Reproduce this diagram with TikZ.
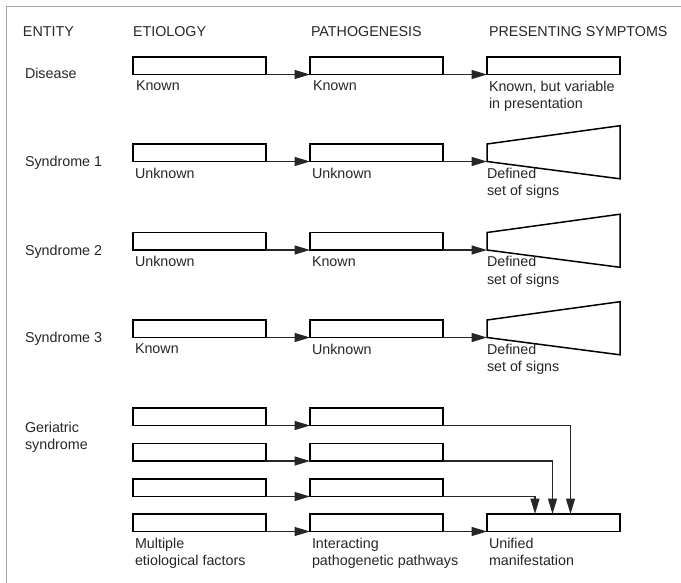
\documentclass[tikz,border=0pt]{standalone}
\usepackage{fontspec}
\setmainfont{Liberation Sans}
\usetikzlibrary{arrows.meta}
\tikzset{
  box/.style={draw=black, line width=1.5pt, minimum width=133pt, minimum height=17.5pt, inner sep=0pt, outer sep=0pt, anchor=north west},
  txt/.style={inner sep=0pt, outer sep=0pt, text=black!85, font=\fontsize{14.3}{17.5}\selectfont},
  hdr/.style={txt, anchor=base west},
  ent/.style={txt, anchor=base west},
  lbl/.style={txt, anchor=north west, align=left},
  flow/.style={draw=black!85, line width=1.3pt, -{Triangle[length=15.5pt,width=9pt]}},
  trap/.style={draw=black, line width=1.5pt, line join=miter},
  frame/.style={draw=black!35, line width=1pt},
}
\begin{document}
\begin{tikzpicture}[x=1pt,y=-1pt]
\useasboundingbox (0,0) rectangle (681,583);
\draw[frame] (6.5,583) -- (6.5,6.7) -- (681,6.7);

% headers
\node[hdr] (hE) at (23,37) {ENTITY};
\node[hdr] (hA) at (133,37) {ETIOLOGY};
\node[hdr] (hB) at (311,37) {PATHOGENESIS};
\node[hdr] (hC) at (489,37) {PRESENTING SYMPTOMS};

% Disease
\node[ent] (eD) at (25,79) {Disease};
\node[box] (d1) at (133,57) {};
\node[box] (d2) at (310,57) {};
\node[box] (d3) at (487,57) {};
\draw[flow] (d1.south east) -- (d2.south west);
\draw[flow] (d2.south east) -- (d3.south west);
\node[lbl] (ld1) at (136,81) {Known};
\node[lbl] (ld2) at (313,81) {Known};
\node[lbl] (ld3) at (489,81) {Known, but variable\\in presentation};

% Syndrome 1
\node[ent] (e1) at (25,166.5) {Syndrome 1};
\node[box] (a1) at (133,144) {};
\node[box] (b1) at (310,144) {};
\coordinate (t1) at (487,161.5);
\draw[trap] (487,144) -- (620,125.7) -- (620,178.8) -- (t1) -- cycle;
\draw[flow] (a1.south east) -- (b1.south west);
\draw[flow] (b1.south east) -- (t1);
\node[lbl] (la1) at (135,168) {Unknown};
\node[lbl] (lb1) at (312,168) {Unknown};
\node[lbl] (lc1) at (487,168) {Defined\\set of signs};

% Syndrome 2
\node[ent] (e2) at (25,255) {Syndrome 2};
\node[box] (a2) at (133,232.5) {};
\node[box] (b2) at (310,232.5) {};
\coordinate (t2) at (487,250);
\draw[trap] (487,232.5) -- (620,214.2) -- (620,267.3) -- (t2) -- cycle;
\draw[flow] (a2.south east) -- (b2.south west);
\draw[flow] (b2.south east) -- (t2);
\node[lbl] (la2) at (135,256.5) {Unknown};
\node[lbl] (lb2) at (312,256.5) {Known};
\node[lbl] (lc2) at (487,256.5) {Defined\\set of signs};

% Syndrome 3
\node[ent] (e3) at (25,342.5) {Syndrome 3};
\node[box] (a3) at (133,320) {};
\node[box] (b3) at (310,320) {};
\draw[line width=2.6pt] (a3.north west) -- (a3.north east);
\draw[line width=2.6pt] (b3.north west) -- (b3.north east);
\coordinate (t3) at (487,337.5);
\draw[trap] (487,320) -- (620,301.7) -- (620,354.8) -- (t3) -- cycle;
\draw[flow] (a3.south east) -- (b3.south west);
\draw[flow] (b3.south east) -- (t3);
\node[lbl] (la3) at (135,344) {Known};
\node[lbl] (lb3) at (312,344) {Unknown};
\node[lbl] (lc3) at (487,344) {Defined\\set of signs};

% Geriatric syndrome
\node[lbl] (eG) at (25,422) {Geriatric\\syndrome};
\node[box] (g1a) at (133,408) {};
\node[box] (g1b) at (310,408) {};
\node[box] (g2a) at (133,443.5) {};
\node[box] (g2b) at (310,443.5) {};
\node[box] (g3a) at (133,479) {};
\node[box] (g3b) at (310,479) {};
\node[box] (g4a) at (133,514) {};
\node[box] (g4b) at (310,514) {};
\node[box] (u) at (487,514) {};
\coordinate (u1) at (570.5,514);
\coordinate (u2) at (552.5,514);
\coordinate (u3) at (535,514);
\draw[flow] (g1a.south east) -- (g1b.south west);
\draw[flow] (g2a.south east) -- (g2b.south west);
\draw[flow] (g3a.south east) -- (g3b.south west);
\draw[flow] (g4a.south east) -- (g4b.south west);
\draw[flow] (g1b.south east) -| (u1);
\draw[flow] (g2b.south east) -| (u2);
\draw[flow] (g3b.south east) -| (u3);
\draw[flow] (g4b.south east) -- (u.south west);
\node[lbl] (lg1) at (135,538) {Multiple\\etiological factors};
\node[lbl] (lg2) at (312,538) {Interacting\\pathogenetic pathways};
\node[lbl] (lg3) at (489,538) {Unified\\manifestation};
\end{tikzpicture}
\end{document}
